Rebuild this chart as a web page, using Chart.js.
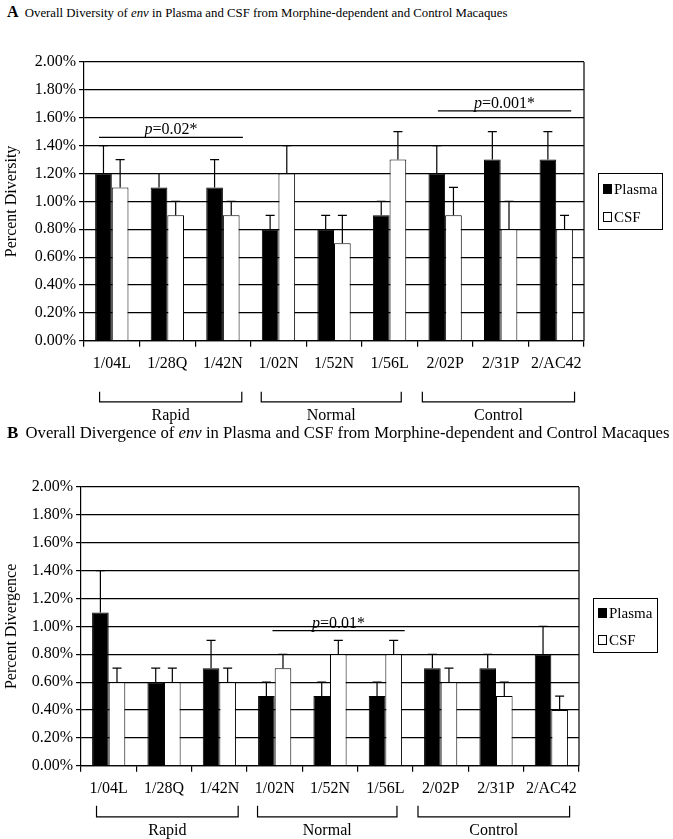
<!DOCTYPE html>
<html>
<head>
<meta charset="utf-8">
<script src="https://cdn.jsdelivr.net/npm/chart.js@4.4.1/dist/chart.umd.min.js"></script>
<style>
  body { margin: 0; background: #fff; font-family: 'Liberation Serif', 'Times New Roman', serif; color: #000; }
  #page { position: relative; width: 673px; height: 839px; overflow: hidden; }
  .fig-title { position: absolute; left: 7px; line-height: 20px; white-space: nowrap; }
  .fig-title b { margin-right: 3px; }
  canvas { position: absolute; left: 0; }
  .legend { position: absolute; border: 1px solid #000; box-sizing: border-box; font-size: 15px; }
  .legend div { position: absolute; left: 4px; height: 16px; line-height: 16px; white-space: nowrap; }
  .legend span { display: inline-block; width: 7px; height: 8px; border: 1px solid #000; margin-right: 2px; vertical-align: 0px; }
</style>
</head>
<body>
<div id="page">
  <div class="fig-title" style="top:2px; font-size:12.8px"><b style="font-size:16px">A</b> Overall Diversity of <i>env</i> in Plasma and CSF from Morphine-dependent and Control Macaques</div>
  <canvas id="chartA" width="673" height="397" style="top:28px"></canvas>
  <div class="legend" style="left:598px; top:173px; width:65px; height:57px">
    <div style="top:7px"><span style="background:#000"></span>Plasma</div>
    <div style="top:35px"><span style="background:#fff"></span>CSF</div>
  </div>

  <div class="fig-title" style="top:423px; font-size:16.7px"><b style="font-size:17px">B</b> Overall Divergence of <i>env</i> in Plasma and CSF from Morphine-dependent and Control Macaques</div>
  <canvas id="chartB" width="673" height="389" style="top:450px"></canvas>
  <div class="legend" style="left:593px; top:598px; width:65px; height:55px">
    <div style="top:6px"><span style="background:#000"></span>Plasma</div>
    <div style="top:33px"><span style="background:#fff"></span>CSF</div>
  </div>
</div>

<script>
// animals (x categories) and the groups they belong to
const categories = ['1/04L', '1/28Q', '1/42N', '1/02N', '1/52N', '1/56L', '2/02P', '2/31P', '2/AC42'];
const groupNames = ['Rapid', 'Normal', 'Control'];
const groupFrom = [-0.22, 2.69, 5.59];
const groupTo = [2.34, 5.21, 8.33];

// y axis
const yMin = 0;
const yMax = 2;
const yStep = 0.2;

// A - diversity (%)
const diversityPlasma = [1.2, 1.1, 1.1, 0.8, 0.8, 0.9, 1.2, 1.3, 1.3];
const diversityPlasmaErr = [0.2, 0.1, 0.2, 0.1, 0.1, 0.1, 0.2, 0.2, 0.2];
const diversityCsf = [1.1, 0.9, 0.9, 1.2, 0.7, 1.3, 0.9, 0.8, 0.8];
const diversityCsfErr = [0.2, 0.1, 0.1, 0.2, 0.2, 0.2, 0.2, 0.2, 0.1];

// B - divergence (%)
const divergencePlasma = [1.1, 0.6, 0.7, 0.5, 0.5, 0.5, 0.7, 0.7, 0.8];
const divergencePlasmaErr = [0.3, 0.1, 0.2, 0.1, 0.1, 0.1, 0.1, 0.1, 0.2];
const divergenceCsf = [0.6, 0.6, 0.6, 0.7, 0.8, 0.8, 0.6, 0.5, 0.4];
const divergenceCsfErr = [0.1, 0.1, 0.1, 0.1, 0.1, 0.1, 0.1, 0.1, 0.1];

// significance bars
const pLabelsA = ['0.02*', '0.001*'];
const pFromA = [-0.23, 5.87];
const pToA = [2.36, 8.27];
const pLevelA = [1.46, 1.65];
const pLabelsB = ['0.01*'];
const pFromB = [2.96];
const pToB = [5.35];
const pLevelB = [0.97];

const serif = "'Liberation Serif', 'Times New Roman', serif";
Chart.defaults.font.family = serif;
Chart.defaults.font.size = 16;
Chart.defaults.color = '#000';

// error bars, p-value bars, group brackets and the right frame line
const extras = {
  id: 'extras',
  afterDatasetsDraw(chart, args, opts) {
    const ctx = chart.ctx;
    const x = chart.scales.x;
    const y = chart.scales.y;
    const area = chart.chartArea;
    ctx.save();
    ctx.strokeStyle = '#000';
    ctx.fillStyle = '#000';
    ctx.lineWidth = 1.2;

    ctx.beginPath();
    ctx.moveTo(area.right, area.top);
    ctx.lineTo(area.right, area.bottom);
    ctx.stroke();

    chart.data.datasets.forEach(function (ds, di) {
      const meta = chart.getDatasetMeta(di);
      meta.data.forEach(function (bar, i) {
        const top = y.getPixelForValue(ds.data[i] + opts.errors[di][i]);
        ctx.beginPath();
        ctx.moveTo(bar.x, bar.y);
        ctx.lineTo(bar.x, top);
        ctx.moveTo(bar.x - 4.5, top);
        ctx.lineTo(bar.x + 4.5, top);
        ctx.stroke();
      });
    });

    opts.pLabels.forEach(function (label, i) {
      const x0 = x.getPixelForValue(opts.pFrom[i]);
      const x1 = x.getPixelForValue(opts.pTo[i]);
      const ly = y.getPixelForValue(opts.pLevel[i]);
      ctx.beginPath();
      ctx.moveTo(x0, ly);
      ctx.lineTo(x1, ly);
      ctx.stroke();
      ctx.textBaseline = 'alphabetic';
      ctx.textAlign = 'left';
      ctx.font = 'italic 16px ' + serif;
      const wp = ctx.measureText('p').width;
      ctx.font = '16px ' + serif;
      const rest = '=' + label;
      const wr = ctx.measureText(rest).width;
      const start = (x0 + x1) / 2 - (wp + wr) / 2;
      ctx.font = 'italic 16px ' + serif;
      ctx.fillText('p', start, ly - 3);
      ctx.font = '16px ' + serif;
      ctx.fillText(rest, start + wp, ly - 3);
    });

    const b0 = area.bottom + opts.bracketTop;
    const b1 = area.bottom + opts.bracketBottom;
    ctx.font = '16px ' + serif;
    ctx.textAlign = 'center';
    ctx.textBaseline = 'middle';
    groupNames.forEach(function (name, i) {
      const x0 = x.getPixelForValue(groupFrom[i]);
      const x1 = x.getPixelForValue(groupTo[i]);
      ctx.beginPath();
      ctx.moveTo(x0, b0);
      ctx.lineTo(x0, b1);
      ctx.lineTo(x1, b1);
      ctx.lineTo(x1, b0);
      ctx.stroke();
      ctx.fillText(name, (x0 + x1) / 2, area.bottom + opts.labelOffset);
    });
    ctx.restore();
  }
};

function makeChart(id, plasma, plasmaErr, csf, csfErr, yTitle, layout, extraOpts) {
  return new Chart(document.getElementById(id), {
    type: 'bar',
    data: {
      labels: categories,
      datasets: [
        { label: 'Plasma', data: plasma, backgroundColor: '#000', borderColor: '#000', borderWidth: 1 },
        { label: 'CSF', data: csf, backgroundColor: '#fff', borderColor: '#000', borderWidth: 1 }
      ]
    },
    options: {
      responsive: false,
      animation: false,
      devicePixelRatio: 1,
      categoryPercentage: 0.6,
      barPercentage: 1.0,
      layout: { padding: layout.padding },
      plugins: {
        legend: { display: false },
        tooltip: { enabled: false },
        extras: Object.assign({ errors: [plasmaErr, csfErr] }, extraOpts)
      },
      scales: {
        x: {
          grid: { offset: true, drawOnChartArea: false, drawTicks: true, tickLength: 6, color: '#000', lineWidth: 1.2 },
          border: { color: '#000', width: 1.2 },
          ticks: { padding: 7, maxRotation: 0, autoSkip: false, font: { size: 16 } }
        },
        y: {
          min: yMin,
          max: yMax,
          grid: { color: '#000', lineWidth: 1.2, drawTicks: true, tickLength: 5 },
          border: { color: '#000', width: 1.2 },
          ticks: { stepSize: yStep, padding: 3, font: { size: 16 }, callback: function (v) { return v.toFixed(2) + '%'; } },
          title: { display: true, text: yTitle, font: { size: 16 }, padding: { top: 2, bottom: layout.titleGap } }
        }
      }
    },
    plugins: [extras]
  });
}

makeChart('chartA', diversityPlasma, diversityPlasmaErr, diversityCsf, diversityCsfErr, 'Percent Diversity',
  { padding: { top: 34, right: 89, bottom: 45, left: 0 }, titleGap: 10.5 },
  { pLabels: pLabelsA, pFrom: pFromA, pTo: pToA, pLevel: pLevelA, bracketTop: 51, bracketBottom: 61, labelOffset: 75 });

makeChart('chartB', divergencePlasma, divergencePlasmaErr, divergenceCsf, divergenceCsfErr, 'Percent Divergence',
  { padding: { top: 37, right: 94, bottom: 34, left: 0 }, titleGap: 7.5 },
  { pLabels: pLabelsB, pFrom: pFromB, pTo: pToB, pLevel: pLevelB, bracketTop: 40, bracketBottom: 51, labelOffset: 65 });
</script>
</body>
</html>
